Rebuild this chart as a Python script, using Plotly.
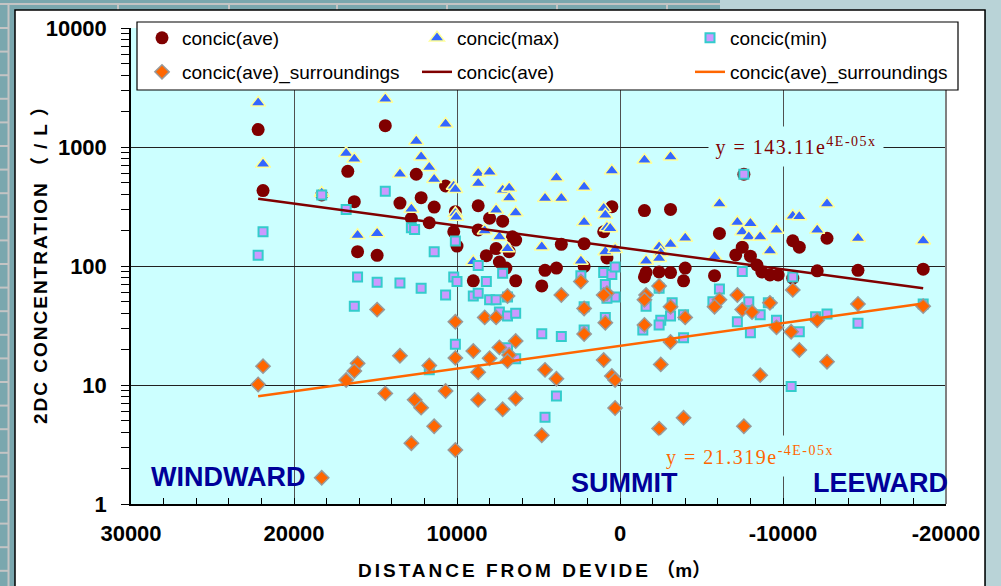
import numpy as np
import plotly.graph_objects as go

# ---- data: 2DC concentration (/L) against distance from the ice divide (m) ----
AVE_X = [22200, 21900, 18300, 16700, 16300, 16100, 14400, 12500, 10700, 13500, 12200, 11400,
         12800, 11700, 10100, 10200, 10000, 14900, 8700, 8000, 7200, 8700, 6600, 6400,
         7600, 6800, 8200, 7400, 7000, 9000, 6400, 500, 1000, 3600, 2200, 2200,
         4600, 3900, 4800, 800, -1500, -3100, -7600, -6100, -10600, -11000, -12700, -7500,
         -7100, -8000, -8400, -8700, -9200, -9700, -12100, -14600, -4000, -3100, -2400, -1600,
         -1500, -3900, -5800, -10600, -18600]
AVE_Y = [1400, 430, 395, 625, 347, 132, 1510, 590, 470, 338, 375, 313,
         252, 231, 286, 194, 147, 123, 321, 252, 238, 201, 176, 165,
         140, 132, 122, 108, 96, 75, 75, 315, 194, 152, 154, 99,
         92, 96, 68, 117, 292, 299, 590, 188, 163, 144, 171, 144,
         124, 121, 102, 89, 84, 84, 91, 92, 96, 88, 89, 88,
         81, 75, 83, 79, 94]

MAX_X = [22200, 21900, 18300, 16800, 16300, 16100, 14400, 10700, 12500, 12200, 11700, 13500,
         11400, 10200, 10100, 12800, 10100, 10050, 14900, 8700, 8000, 8700, 7200, 6800,
         6800, 7600, 6400, 8300, 7400, 6900, 9000, 3900, 2200, 4600, 3600, 500,
         2200, 1000, 900, 800, 4800, 900, 300, 2400, -1500, -3100, -6100, -12700,
         -7200, -8000, -7500, -7900, -8600, -9600, -12100, -10600, -11000, -14600, 600, -3100,
         -2400, -2500, -4000, -9200, -5800, -1600, -2400, -18600]
MAX_Y = [2350, 720, 410, 885, 793, 181, 2530, 1560, 1120, 829, 675, 593,
         535, 470, 441, 301, 277, 258, 188, 601, 617, 495, 435, 452,
         375, 296, 280, 198, 176, 140, 109, 552, 461, 371, 371, 632,
         233, 305, 268, 211, 145, 132, 138, 110, 778, 829, 334, 334,
         233, 228, 194, 176, 176, 201, 201, 263, 260, 171, 207, 152,
         145, 129, 172, 134, 120, 110, 116, 163]

MIN_X = [22200, 21900, 18300, 16800, 16100, 16300, 14400, 12800, 12600, 10100, 11400, 8700,
         7200, 8200, 14900, 13500, 10200, 10000, 12200, 10700, 2400, 1000, 500, 300,
         900, -7600, -7500, -10600, -6100, -2400, -1600, -3200, -3100, -3900, -2500, -2400,
         -1400, -3900, -5700, -7900, -8600, -9100, -7200, -8000, -9600, -11000, -10500, -12000,
         -12700, -14600, -18600, 300, 10100, 11700, 9000, 8700, 8000, 7600, 6900, 7400,
         6900, 6400, 6900, 6400, 4800, 3600, 3900, 4600, 800, 2200, 900, 2200]
MIN_Y = [123, 194, 395, 299, 81, 46, 424, 210, 203, 162, 132, 101,
         87, 74, 73, 72, 81, 74, 65, 57, 83, 88, 85, 98,
         70, 590, 90, 81, 64, 65, 46, 49, 38, 39, 35, 32,
         29, 25, 50, 50, 39, 49, 34, 27.5, 35, 28, 9.7, 37.5,
         39.5, 33, 48, 55, 22, 13.4, 56, 59, 52, 52, 55, 41,
         38, 40, 20.6, 16.6, 27, 25.5, 8.1, 5.35, 53.5, 45.5, 37, 29]

SURR_X = [21900, 22200, 16100, 16300, 16800, 18300, 14900, 10100, 10100, 13500, 11700, 14400,
          10700, 12600, 12200, 11400, 12800, 10100, 6900, 8300, 7600, 6400, 9000, 7400,
          8000, 6800, 6900, 8700, 8700, 7200, 6400, 3600, 4600, 3900, 4800, 2400,
          800, 1000, 2200, 900, 2200, 1000, 500, 300, 300, -2400, -1600, -1500,
          -3100, -4000, -1500, -3100, -2500, -6100, -5800, -7200, -7500, -8100, -9200, -9600,
          -8600, -7600, -3900, -2400, -10600, -10500, -11000, -12700, -12100, -14600, -18600]
SURR_Y = [14.4, 10.1, 15.2, 13.1, 11, 1.66, 43, 34, 16.9, 17.6, 14.6, 8.5,
          8.9, 7.5, 6.45, 4.5, 3.24, 2.84, 56, 37, 37, 23.4, 19.3, 20.7,
          16.8, 17.9, 15.9, 12.8, 7.5, 6.25, 7.7, 57, 13.4, 11.3, 3.78, 74,
          59, 57, 44, 33.4, 26.8, 16.2, 11.9, 11, 6.4, 68, 57, 52,
          45.5, 37, 32, 23, 14.9, 52, 45.5, 57, 43, 41, 49, 30.5,
          12.1, 4.5, 5.3, 4.3, 63, 28, 19.7, 15.7, 35, 48, 46]

# exponential trend lines y = a * exp(b * x)
AVE_FIT = (143.11, 4.24e-5)
SURR_FIT = (21.319, -4.4e-5)

X_TICKS = [30000, 20000, 10000, 0, -10000, -20000]
X_TICK_TEXT = ["30000", "20000", "10000", "0", "-10000", "-20000"]
Y_TICKS = [1, 10, 100, 1000, 10000]
Y_TICK_TEXT = ["1", "10", "100", "1000", "10000"]
REGIONS = ["WINDWARD", "SUMMIT", "LEEWARD"]

# ---- page geometry ----
W, H = 1001, 586
ML, MR, MT, MB = 131, 55, 28, 82
PW = W - ML - MR
PH = H - MT - MB


def px(x):
    return (x - ML) / PW


def py(y):
    return (H - MB - y) / PH


FONT = "Liberation Sans, Arial, Noto Sans CJK JP, sans-serif"
SERIF = "Liberation Serif, Times New Roman, serif"
PLOT_BG = "#CCFFFF"

fig = go.Figure()

# one legend per entry so that the six keys sit on a fixed 3 x 2 grid
fig.add_trace(go.Scatter(
    x=AVE_X, y=AVE_Y, mode="markers", name="concic(ave)", legend="legend",
    marker=dict(symbol="circle", size=13, color="#800000", line=dict(width=0))))
fig.add_trace(go.Scatter(
    x=MAX_X, y=MAX_Y, mode="markers", name="concic(max)", legend="legend2",
    marker=dict(symbol="triangle-up", size=13, color="#3366FF",
                line=dict(width=1.5, color="#FFFF99"))))
fig.add_trace(go.Scatter(
    x=MIN_X, y=MIN_Y, mode="markers", name="concic(min)", legend="legend3",
    marker=dict(symbol="square", size=9, color="#CC99FF",
                line=dict(width=2, color="#33CCCC"))))
fig.add_trace(go.Scatter(
    x=SURR_X, y=SURR_Y, mode="markers", name="concic(ave)_surroundings", legend="legend4",
    marker=dict(symbol="diamond", size=11, color="#FF6600",
                line=dict(width=1.5, color="#999999"))))


def trend(xs, fit):
    a, b = fit
    xx = np.linspace(max(xs), min(xs), 60)
    return xx, a * np.exp(b * xx)


tx, ty = trend(AVE_X, AVE_FIT)
fig.add_trace(go.Scatter(x=tx, y=ty, mode="lines", name="concic(ave)", legend="legend5",
                         line=dict(color="#800000", width=2.5)))
tx, ty = trend(SURR_X, SURR_FIT)
fig.add_trace(go.Scatter(x=tx, y=ty, mode="lines", name="concic(ave)_surroundings",
                         legend="legend6", line=dict(color="#FF6600", width=2.5)))

tick_font = dict(family=FONT, size=22, color="black", weight="bold")
x_minor = list(range(-20000, 30001, 2000))
y_minor = [m * 10 ** k for k in range(4) for m in range(2, 10)]


def legend_at(left, centre_y):
    return dict(
        orientation="h", x=px(left), xanchor="left", y=py(centre_y), yanchor="middle",
        bgcolor="rgba(0,0,0,0)", borderwidth=0,
        font=dict(family=FONT, size=19, color="black"), itemwidth=30,
    )


fig.update_layout(
    width=W, height=H,
    margin=dict(l=ML, r=MR, t=MT, b=MB, pad=0),
    paper_bgcolor="#7AA7AE",
    plot_bgcolor=PLOT_BG,
    xaxis=dict(
        range=[30000, -20000], tickmode="array", tickvals=X_TICKS, ticktext=X_TICK_TEXT,
        ticks="inside", ticklen=6, tickwidth=1, tickcolor="black",
        showline=True, linecolor="black", linewidth=1.5,
        showgrid=True, gridcolor="#505050", gridwidth=1, zeroline=False,
        minor=dict(tickmode="array", tickvals=x_minor, ticks="inside", ticklen=6,
                   tickcolor="black", showgrid=False),
        tickfont=tick_font, ticklabelstandoff=9,
    ),
    yaxis=dict(
        type="log", range=[0, 4], tickmode="array", tickvals=Y_TICKS, ticktext=Y_TICK_TEXT,
        ticks="outside", ticklen=8, tickwidth=1, tickcolor="black",
        showline=True, linecolor="black", linewidth=1.5,
        showgrid=True, gridcolor="#202020", gridwidth=1, zeroline=False,
        minor=dict(tickmode="array", tickvals=y_minor, ticks="outside", ticklen=8,
                   tickcolor="black", showgrid=False),
        tickfont=tick_font, ticklabelstandoff=10,
    ),
    yaxis2=dict(
        type="log", range=[0, 4], overlaying="y", side="left", anchor="x",
        tickmode="array", tickvals=Y_TICKS, ticks="inside", ticklen=6, tickcolor="black",
        showticklabels=False, showgrid=False, showline=False, zeroline=False,
        minor=dict(tickmode="array", tickvals=y_minor, ticks="inside", ticklen=6,
                   tickcolor="black", showgrid=False),
    ),
    legend=legend_at(142, 38),
    legend2=legend_at(417, 38),
    legend3=legend_at(690, 38),
    legend4=legend_at(142, 72),
    legend5=legend_at(417, 72),
    legend6=legend_at(690, 72),
    showlegend=True,
)

# ---- frame, panel and legend box ----
shapes = [
    dict(type="rect", xref="paper", yref="paper", x0=px(986), x1=px(1001), y0=py(0), y1=py(586),
         fillcolor="#B9D3D7", line=dict(width=0), layer="below"),
    dict(type="rect", xref="paper", yref="paper", x0=px(720), x1=px(986), y0=py(0), y1=py(10),
         fillcolor="#B9D3D7", line=dict(width=0), layer="below"),
    dict(type="line", xref="paper", yref="paper", x0=px(8.5), x1=px(8.5), y0=py(4), y1=py(586),
         line=dict(color="#C4C4C4", width=2), layer="below"),
    dict(type="line", xref="paper", yref="paper", x0=px(0), x1=px(720), y0=py(4), y1=py(4),
         line=dict(color="#C4C4C4", width=2), layer="below"),
]
for k in range(24):
    yy = 28 + 23.6 * k
    shapes.append(dict(type="line", xref="paper", yref="paper", x0=px(0), x1=px(8.5),
                       y0=py(yy), y1=py(yy), line=dict(color="#C4C4C4", width=2), layer="below"))
for xx in [118, 229, 337, 447, 557, 667]:
    shapes.append(dict(type="line", xref="paper", yref="paper", x0=px(xx), x1=px(xx),
                       y0=py(4), y1=py(10), line=dict(color="#C4C4C4", width=2), layer="below"))
shapes += [
    dict(type="rect", xref="paper", yref="paper", x0=px(15), x1=px(985), y0=py(600), y1=py(10),
         fillcolor="white", line=dict(color="black", width=1.5), layer="below"),
    dict(type="rect", xref="paper", yref="paper", x0=0, x1=1, y0=0, y1=1,
         fillcolor=PLOT_BG, line=dict(width=0), layer="below"),
    dict(type="line", xref="paper", yref="paper", x0=1, x1=1, y0=0, y1=1,
         line=dict(color="#808080", width=2), layer="above"),
    dict(type="rect", xref="paper", yref="paper", x0=px(137), x1=px(958), y0=py(90), y1=py(22),
         fillcolor="white", line=dict(color="black", width=1.2), layer="above"),
]

# ---- text ----
annotations = []


def eq_text(fit):
    a, b = fit
    return f'<span style="letter-spacing:1.5px">y = {a}e<sup>{b:.0E}x</sup></span>'


annotations.append(dict(
    text=eq_text(AVE_FIT), xref="paper", yref="paper", x=px(796), y=py(146.5),
    xanchor="center", yanchor="middle", showarrow=False, width=172, height=37,
    bgcolor=PLOT_BG, font=dict(family=SERIF, size=20, color="#800000")))
annotations.append(dict(
    text=eq_text(SURR_FIT), xref="paper", yref="paper", x=px(750), y=py(456),
    xanchor="center", yanchor="middle", showarrow=False, width=180, height=38,
    bgcolor=PLOT_BG, font=dict(family=SERIF, size=20, color="#FF6600")))

region_pos = [(228, 477), (624, 483), (880, 483)]
for label, (ax, ay) in zip(REGIONS, region_pos):
    annotations.append(dict(
        text=label, xref="paper", yref="paper", x=px(ax), y=py(ay),
        xanchor="center", yanchor="middle", showarrow=False,
        font=dict(family=FONT, size=27, color="#000099", weight="bold")))

title_font = dict(family=FONT, size=19, color="black", weight="bold")
annotations.append(dict(
    text='<span style="letter-spacing:3px">DISTANCE FROM DEVIDE</span> （m）',
    xref="paper", yref="paper", x=px(534), y=py(570),
    xanchor="center", yanchor="middle", showarrow=False, font=title_font))
annotations.append(dict(
    text='<span style="letter-spacing:2px">2DC CONCENTRATION</span> '
         '<span style="letter-spacing:8px">（/L）</span>',
    xref="paper", yref="paper", x=px(40), y=py(257),
    xanchor="center", yanchor="middle", showarrow=False, textangle=-90, font=title_font))

fig.update_layout(shapes=shapes, annotations=annotations)

fig.write_html("out.html")
